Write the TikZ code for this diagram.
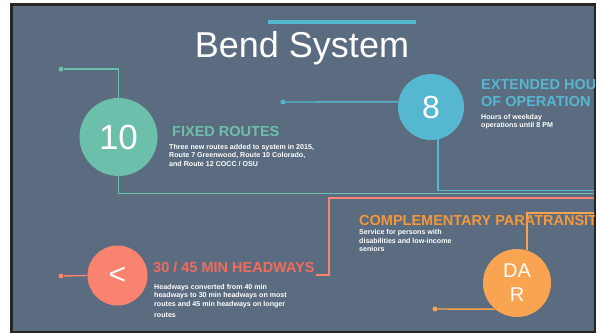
\documentclass[tikz,border=0pt]{standalone}
\usepackage{fontspec}
\setmainfont{Liberation Sans}
\definecolor{slidebg}{RGB}{91,107,128}
\definecolor{cgreen}{RGB}{108,192,171}
\definecolor{ccyan}{RGB}{86,183,208}
\definecolor{csalmon}{RGB}{250,131,112}
\definecolor{cred}{RGB}{242,108,92}
\definecolor{corange}{RGB}{248,164,80}
\definecolor{corangetxt}{RGB}{243,152,60}
\tikzset{
  px/.style={x=1pt,y=-1pt},
  dotmark/.style={circle,fill=#1,inner sep=0pt,minimum size=5pt},
  bigcirc/.style={circle,fill=#1,inner sep=0pt,text=white},
  conn/.style={draw=#1,line width=1.4pt},
  headtxt/.style={anchor=base west,inner sep=0pt,font=\fontsize{14.5}{17}\selectfont\bfseries,text=#1,align=left},
  desctxt/.style={anchor=base west,inner sep=0pt,font=\fontsize{7.1}{8.3}\selectfont\bfseries,text=white,align=left},
}
\begin{document}
\begin{tikzpicture}[px]
\useasboundingbox (0,0) rectangle (599,333);
\fill[white] (0,0) rectangle (599,333);
\fill[black!85] (10,3) rectangle (596,333);
\fill[slidebg] (13,6) rectangle (594,331);
\begin{scope}
\clip (13,6) rectangle (594,331);
% title
\draw[ccyan,line width=3.5pt] (268,22) -- (416,22);
\node[anchor=base,inner sep=0pt,text=white,font=\fontsize{36}{36}\selectfont] (title) at (302,57) {Bend System};
% circles
\node[bigcirc=cgreen,minimum size=78pt,font=\fontsize{35}{35}\selectfont] (g) at (118.5,137) {10};
\node[bigcirc=ccyan,minimum size=66pt,font=\fontsize{32}{32}\selectfont] (c) at (431,107) {8};
\node[bigcirc=csalmon,minimum size=60pt,font=\fontsize{30}{30}\selectfont] (r) at (117.5,275.5) {<};
\node[bigcirc=corange,minimum size=68pt,font=\fontsize{20}{24}\selectfont,align=center] (o) at (517,283) {DA\\R};
% dots
\node[dotmark=cgreen] (gd) at (61,69) {};
\node[dotmark=ccyan] (cd) at (283,102) {};
\node[dotmark=csalmon] (rd) at (61,276) {};
\node[dotmark=corange] (od) at (435,309) {};
% free ends
\coordinate (ge) at (594,193.5);
\coordinate (ce) at (594,190.5);
\coordinate (rt) at (316,275);
\coordinate (rc) at (329,198);
\coordinate (re) at (594,198);
\coordinate (oe) at (594,213);
% connectors
\draw[conn=cgreen] (gd) -| (g.north);
\draw[conn=cgreen] (g.south) |- (ge);
\draw[conn=ccyan] (cd) -- (c.171);
\draw[conn=ccyan] (c.-78) |- (ce);
\draw[conn=csalmon] (rd) -- (r.west);
\draw[conn=csalmon] (rt) -| (rc) -- (re);
\draw[conn=corange] (od) -- (o.230);
\draw[conn=corange] (o.73) |- (oe);
% texts (anchor = baseline of last line)
\node[headtxt=cgreen] (h1) at (172,136) {FIXED ROUTES};
\node[desctxt] (d1) at (169,166) {Three new routes added to system in 2015,\\Route 7 Greenwood, Route 10 Colorado,\\and Route 12 COCC / OSU};
\node[headtxt=ccyan] (h2) at (481,106) {EXTENDED HOURS\\OF OPERATION};
\node[desctxt] (d2) at (481,127.5) {Hours of weekday\\operations until 8 PM};
\node[headtxt=cred] (h3) at (153,272) {30 / 45 MIN HEADWAYS};
\node[desctxt] (d3) at (154,317) {Headways converted from 40 min\\headways to 30 min headways on most\\routes and 45 min headways on longer\\[2.5pt]routes};
\node[headtxt=corangetxt] (h4) at (359,225) {COMPLEMENTARY PARATRANSIT};
\node[desctxt] (d4) at (359,251.5) {Service for persons with\\disabilities and low-income\\seniors};
\end{scope}
\end{tikzpicture}
\end{document}
